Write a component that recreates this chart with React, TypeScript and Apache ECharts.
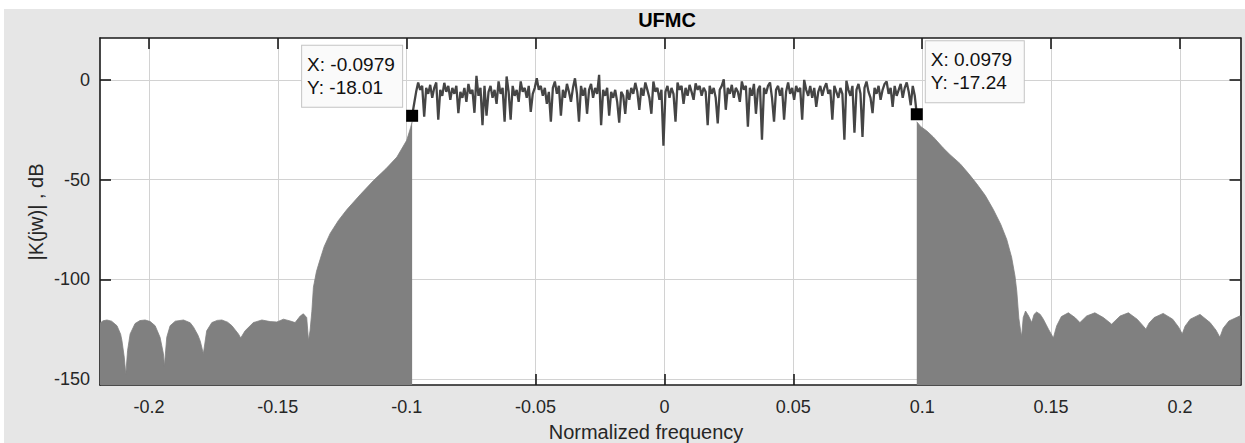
import React, { useEffect, useRef } from "react";
import * as echarts from "echarts";

// ---- data ----
const xTicks = [-0.2, -0.15, -0.1, -0.05, 0, 0.05, 0.1, 0.15, 0.2];
const yTicks = [-150, -100, -50, 0];
const X_MIN = -0.219;
const X_MAX = 0.2235;
const Y_MIN = -153;
const Y_MAX = 21;

const PASS_START = -0.0979;
const PASS_END = 0.0979;
// passband |K(jw)| in dB, uniformly sampled between PASS_START and PASS_END
const passbandDb = [
  -18.01, -12, -6, -1.3, -5, -3, -18.5, -4, -7, -2.5,
  -9, -4, -1.3, -20, -5, -8, -1.5, -6, -3, -10,
  -4, -7, -3, -16.7, -6, -9, -4, -11, -2, -7,
  -5, -16.5, 2, -8, -4, -22.7, -3, -18, -6, -3,
  -9, -5, -12, -0.8, -7, -4, -21, 1.7, -6, -20,
  -3, -8, -5, -11, -0.8, -6, -4, -9, -3, -16,
  -7, -4, 0.8, -5, -3, -8, -4, -12, -6, -21,
  -4, -0.8, -7, -3, -18, -5, -9, -2, -6, -11,
  -4, 0.8, -7, -21, -3, -8, -4, -17, -5, -2,
  -9, -4, -7, 2.5, -22.7, -5, -8, -4, -18, -6,
  -9, -5, -11, -21.5, -6, -8, -17, -5, -10, -4,
  -7, -1.5, -6, -15, -4, -8, -1.3, -5, -9, -17,
  -0.8, -6, -4, -10, -5, -33,
  -6, -3, -9, -4, -7, -21, -1.3, -5, -3, -12,
  -4, -8, -2.5, -6, -10, -1.7, -5, -3, -8, -4,
  -6, -22.7, -3, -7, -4, -9, -21.8, -5, -3, 0.3,
  -15, -4, -7, -2.5, -9, -4, -6, -11, -0.8, -5,
  -3, -23.5, -4, -8, -2, -17, -5, -3, -30, -4,
  -7, -3, -1.3, -9, -21, -5, -3, -8, -4, -20,
  -6, -1.3, -7, -4, -10, -3, -6, -4, -20, 0,
  -5, -8, -3, -9, -4, -13.5, -6, -3, -8, -4,
  -1.7, -7, -5, -20, -3, -6, -9, -4, -7, -30,
  -0.5, -5, -8, -3, -26.5, -5, -2, -7, -28.6, -4,
  -0.8, -6, -9, -16.7, -4, -7, -3, -10, -5, -2,
  -0.8, -7, -4, -13.5, -3, -8, -5, -2, -9, -4,
  -1.3, -6, -12.7, -3, -8, -17.24,
];

// left stopband (filled)
const leftStopFreq = [
  -0.219, -0.2178, -0.2163, -0.2145, -0.2124, -0.211, -0.2105, -0.2096, -0.209, -0.2086,
  -0.2083, -0.2073, -0.2054, -0.2035, -0.2015, -0.1995, -0.1976, -0.1957, -0.1944, -0.194,
  -0.1936, -0.1931, -0.1918, -0.1898, -0.1866, -0.184, -0.1827, -0.181, -0.1801, -0.1789,
  -0.1783, -0.1776, -0.1756, -0.1735, -0.1717, -0.1695, -0.1678, -0.1653, -0.1644, -0.1627,
  -0.1595, -0.1562, -0.153, -0.1504, -0.1478, -0.1452, -0.1433, -0.1413, -0.1401, -0.1388,
  -0.1381, -0.1375, -0.1368, -0.1362, -0.135, -0.1336, -0.132, -0.1297, -0.1265, -0.1232,
  -0.118, -0.1129, -0.108, -0.1038, -0.1, -0.0985, -0.0979,
];
const leftStopDb = [
  -122, -120.8, -120.4, -121, -123.3, -127.5, -130.7, -139, -147.5, -141,
  -135.7, -127.4, -122.2, -120.7, -120.4, -121.2, -123.3, -129.1, -137.3, -143.5,
  -137, -129.1, -123.3, -121, -120.4, -121.8, -124, -128, -131, -137.3,
  -132, -125.8, -121.7, -120.6, -120.4, -121.5, -123.3, -127.4, -129.4, -125.8,
  -121.7, -120.4, -121.2, -121.4, -120, -120.9, -121.7, -118.4, -117.3, -119.2,
  -130.7, -125.8, -116, -104, -96, -90, -83.5, -77, -70.5, -65,
  -57.5, -50.5, -44.5, -38.7, -30.3, -24, -21,
];

// right stopband (filled)
const rightStopFreq = [
  0.0979, 0.0995, 0.1017, 0.1043, 0.1082, 0.1108, 0.1147, 0.118, 0.1211, 0.1245,
  0.1276, 0.1305, 0.1328, 0.1347, 0.136, 0.1367, 0.1375, 0.1382, 0.1386, 0.1392,
  0.1401, 0.1413, 0.1425, 0.1434, 0.1444, 0.1458, 0.147, 0.149, 0.1503, 0.1509,
  0.1515, 0.1522, 0.154, 0.1567, 0.1593, 0.1612, 0.1638, 0.167, 0.1703, 0.1735,
  0.1768, 0.18, 0.1834, 0.1855, 0.1868, 0.188, 0.19, 0.1935, 0.1972, 0.1995,
  0.2009, 0.202, 0.204, 0.2078, 0.2117, 0.214, 0.2155, 0.2168, 0.219, 0.2232,
  0.2235,
];
const rightStopDb = [
  -21, -23.5, -25.5, -28.6, -34.2, -37.5, -42, -47, -52, -58,
  -65, -72.5, -80, -89, -98.3, -106, -119.5, -126, -128.5, -119.2,
  -115.9, -118.4, -121.7, -117.6, -116.4, -117.6, -120, -125, -128, -129.4,
  -126.5, -123.3, -118.7, -116.8, -119.2, -121.7, -118.4, -116.8, -119.2, -122.5,
  -118.4, -116.8, -120, -123, -125, -122, -119.2, -117.1, -120, -124,
  -127.4, -123.5, -120, -117.6, -121.7, -125.5, -129.1, -124.5, -120.9, -118.4,
  -118.5,
];

const dataTipX = [-0.0979, 0.0979];
const dataTipY = [-18.01, -17.24];

const FONT = "'Liberation Sans', Arial, Helvetica, sans-serif";
const TEXT = "#262626";

export default function App() {
  const ref = useRef<HTMLDivElement>(null);

  useEffect(() => {
    if (!ref.current) return;
    const chart = echarts.init(ref.current, undefined, { renderer: "svg" });

    const n = passbandDb.length;
    const passData = passbandDb.map((v, i) => [
      PASS_START + ((PASS_END - PASS_START) * i) / (n - 1),
      v,
    ]);
    const leftData = leftStopFreq.map((f, i) => [f, leftStopDb[i]]);
    const rightData = rightStopFreq.map((f, i) => [f, rightStopDb[i]]);

    const tipLabel = (i: number) => ({
      show: true,
      formatter: `X: ${dataTipX[i]}\nY: ${dataTipY[i]}`,
      position: i === 0 ? [-104, -3] : [15, -6],
      align: "left",
      verticalAlign: "bottom",
      width: i === 0 ? 89 : 87,
      fontSize: 19,
      lineHeight: 23,
      fontFamily: FONT,
      color: "#111",
      backgroundColor: "#fafafa",
      borderColor: "#c4c4c4",
      borderWidth: 1,
      padding: [7, 6, 8, 5],
    });

    const axisLineStyle = { color: "#1a1a1a", width: 1.6 };

    chart.setOption({
      animation: false,
      backgroundColor: "#e6e6e6",
      grid: {
        left: 96,
        top: 29,
        right: 4.5,
        bottom: 58,
        containLabel: false,
        show: true,
        backgroundColor: "#ffffff",
        borderWidth: 0,
      },
      graphic: [
        {
          type: "text",
          x: 663,
          y: 11,
          style: {
            text: "UFMC",
            fontSize: 20,
            fontWeight: "bold",
            fontFamily: FONT,
            fill: "#000",
            textAlign: "center",
            textVerticalAlign: "middle",
          },
        },
        {
          type: "text",
          x: 642,
          y: 423,
          style: {
            text: "Normalized frequency",
            fontSize: 20,
            fontFamily: FONT,
            fill: TEXT,
            textAlign: "center",
            textVerticalAlign: "middle",
          },
        },
        {
          type: "text",
          x: 32,
          y: 203,
          rotation: Math.PI / 2,
          style: {
            text: "|K(jw)| , dB",
            fontSize: 20,
            fontFamily: FONT,
            fill: TEXT,
            textAlign: "center",
            textVerticalAlign: "middle",
          },
        },
      ],
      xAxis: [
        {
          type: "value",
          min: X_MIN,
          max: X_MAX,
          position: "bottom",
          axisLine: { show: true, onZero: false, lineStyle: axisLineStyle },
          axisTick: {
            show: true,
            inside: true,
            length: 11,
            customValues: xTicks,
            lineStyle: axisLineStyle,
          },
          axisLabel: {
            show: true,
            customValues: xTicks,
            margin: 13,
            fontSize: 18,
            fontFamily: FONT,
            color: TEXT,
            formatter: (v: number) => String(v),
          },
          splitLine: { show: true, lineStyle: { color: "#d2d2d2", width: 1 } },
        },
        {
          type: "value",
          min: X_MIN,
          max: X_MAX,
          position: "top",
          axisLine: { show: true, onZero: false, lineStyle: axisLineStyle },
          axisTick: {
            show: true,
            inside: true,
            length: 11,
            customValues: xTicks,
            lineStyle: axisLineStyle,
          },
          axisLabel: { show: false },
          splitLine: { show: false },
        },
      ],
      yAxis: [
        {
          type: "value",
          min: Y_MIN,
          max: Y_MAX,
          position: "left",
          axisLine: { show: true, onZero: false, lineStyle: axisLineStyle },
          axisTick: {
            show: true,
            inside: true,
            length: 11,
            customValues: yTicks,
            lineStyle: axisLineStyle,
          },
          axisLabel: {
            show: true,
            customValues: yTicks,
            margin: 10,
            fontSize: 18,
            fontFamily: FONT,
            color: TEXT,
            formatter: (v: number) => String(v),
          },
          splitLine: { show: true, lineStyle: { color: "#d2d2d2", width: 1 } },
        },
        {
          type: "value",
          min: Y_MIN,
          max: Y_MAX,
          position: "right",
          axisLine: { show: true, onZero: false, lineStyle: axisLineStyle },
          axisTick: {
            show: true,
            inside: true,
            length: 11,
            customValues: yTicks,
            lineStyle: axisLineStyle,
          },
          axisLabel: { show: false },
          splitLine: { show: false },
        },
      ],
      series: [
        {
          type: "line",
          name: "left stopband",
          data: leftData,
          showSymbol: false,
          symbol: "none",
          lineStyle: { color: "#808080", width: 0.8 },
          areaStyle: { color: "#808080", opacity: 1, origin: "start" },
          z: 3,
        },
        {
          type: "line",
          name: "right stopband",
          data: rightData,
          showSymbol: false,
          symbol: "none",
          lineStyle: { color: "#808080", width: 0.8 },
          areaStyle: { color: "#808080", opacity: 1, origin: "start" },
          z: 3,
        },
        {
          type: "line",
          name: "passband",
          data: passData,
          showSymbol: false,
          symbol: "none",
          lineStyle: { color: "#454545", width: 2.3, join: "bevel" },
          z: 4,
        },
        {
          type: "scatter",
          name: "data tips",
          symbol: "rect",
          symbolSize: 12,
          itemStyle: { color: "#000", opacity: 1 },
          z: 6,
          data: dataTipX.map((x, i) => ({
            value: [x, dataTipY[i]],
            label: tipLabel(i),
          })),
        },
      ],
    });

    return () => chart.dispose();
  }, []);

  return (
    <div
      style={{
        position: "fixed",
        left: 0,
        top: 0,
        width: 1245,
        height: 443,
        background: "#ffffff",
        overflow: "hidden",
      }}
    >
      <div
        ref={ref}
        style={{ position: "absolute", left: 4, top: 9, width: 1241, height: 434 }}
      />
    </div>
  );
}
